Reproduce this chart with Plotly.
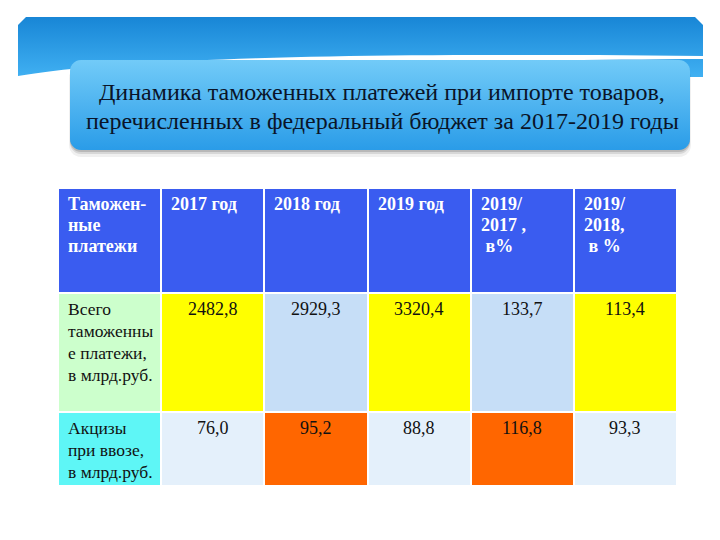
import numpy as np
import plotly.graph_objects as go

# ---- data ----
header_labels = [["Таможен-", "ные", "платежи"], ["2017 год"], ["2018 год"], ["2019 год"],
                 ["2019/", "2017 ,", " в%"], ["2019/", "2018,", " в %"]]
row_labels = [["Всего", "таможенны", "е платежи,", "в млрд.руб."],
              ["Акцизы", "при ввозе,", "в млрд.руб."]]
val_2017 = ["2482,8", "76,0"]
val_2018 = ["2929,3", "95,2"]
val_2019 = ["3320,4", "88,8"]
pct_19_17 = ["133,7", "116,8"]
pct_19_18 = ["113,4", "93,3"]
title_lines = ["Динамика таможенных платежей при импорте товаров,",
               "перечисленных в федеральный бюджет за 2017-2019 годы"]

# colour category of each cell: rows = header, row1, row2
palette = ["#3A5CF0", "#CCFFCC", "#5EF6F6", "#FFFF00", "#C6DEF7", "#E4F0FB", "#FF6600"]
cell_codes = [[0, 0, 0, 0, 0, 0],
              [1, 3, 4, 3, 4, 3],
              [2, 5, 6, 5, 6, 5]]

W, H = 720, 540
SERIF = "Liberation Serif, Times New Roman, Tinos, DejaVu Serif, serif"

# table geometry (layout)
TX0, TX1 = 58, 677
ROW_EDGES = [188, 293, 412, 486]
COL_EDGES = list(np.linspace(TX0, TX1, 7))
LINE = 22


def rrect(x0, y0, x1, y1, r, n=8):
    xs, ys = [], []
    corners = [(x1 - r, y0 + r, -90, 0), (x1 - r, y1 - r, 0, 90),
               (x0 + r, y1 - r, 90, 180), (x0 + r, y0 + r, 180, 270)]
    for cx, cy, a0, a1 in corners:
        for a in np.linspace(np.radians(a0), np.radians(a1), n):
            xs.append(cx + r * np.cos(a))
            ys.append(cy + r * np.sin(a))
    xs.append(xs[0]); ys.append(ys[0])
    return xs, ys


fig = go.Figure()

# banner (top band)
bx = [18, 18, 26, 695, 703, 703, 18]
by = [77, 25, 17, 17, 25, 77, 77]
fig.add_trace(go.Scatter(x=bx, y=by, fill="toself", mode="none", hoverinfo="skip",
                         fillgradient=dict(type="vertical",
                                           colorscale=[[0, "#40B0F2"], [1, "#1886D6"]]),
                         showlegend=False))

# white swoosh across the banner bottom
t = np.linspace(0, 1, 40)
def qbez(p0, p1, p2):
    return ((1 - t) ** 2 * p0[0] + 2 * (1 - t) * t * p1[0] + t ** 2 * p2[0],
            (1 - t) ** 2 * p0[1] + 2 * (1 - t) * t * p1[1] + t ** 2 * p2[1])
ux, uy = qbez((18, 76), (170, 50), (703, 56))
lx, ly = qbez((703, 59), (300, 61), (18, 82))
fig.add_trace(go.Scatter(x=list(ux) + list(lx) + [18, 18], y=list(uy) + list(ly) + [90, 76],
                         fill="toself", mode="none", fillcolor="white", hoverinfo="skip",
                         showlegend=False))

# title box shadow (soft, below)
for dy, pad, a in [(6, 1, 0.06), (4, 0, 0.10), (2, 0, 0.14)]:
    sx, sy = rrect(70 - pad, 60 + dy, 690 + pad, 150 + dy + pad, 11 + pad)
    fig.add_trace(go.Scatter(x=sx, y=sy, fill="toself", mode="none", hoverinfo="skip",
                             fillcolor=f"rgba(0,0,0,{a})", showlegend=False))

# title box
tx, ty = rrect(70, 60, 690, 150, 11)
fig.add_trace(go.Scatter(x=tx, y=ty, fill="toself", mode="none", hoverinfo="skip",
                         fillgradient=dict(type="vertical",
                                           colorscale=[[0, "#2A9CE8"], [1, "#72CBF8"]]),
                         showlegend=False))

# table cells as a heatmap with gaps
n = len(palette)
cs = []
for i, c in enumerate(palette):
    cs.append([i / n, c]); cs.append([(i + 1) / n, c])
fig.add_trace(go.Heatmap(x=COL_EDGES, y=ROW_EDGES, z=cell_codes, zmin=0, zmax=n,
                         colorscale=cs, showscale=False, xgap=2, ygap=2, hoverinfo="skip"))

fig.update_layout(
    width=W, height=H, margin=dict(l=0, r=0, t=0, b=0),
    paper_bgcolor="white", plot_bgcolor="rgba(0,0,0,0)",
    xaxis=dict(range=[0, W], visible=False, fixedrange=True, domain=[0, 1]),
    yaxis=dict(range=[H, 0], visible=False, fixedrange=True, domain=[0, 1]),
    showlegend=False,
)

# title text
for i, line in enumerate(title_lines):
    fig.add_annotation(x=382, y=92 + 29 * i, xref="x", yref="y", showarrow=False,
                       text=line, xanchor="center", yanchor="middle",
                       font=dict(family=SERIF, size=24, color="#0A1428"))

# header text
for j, lines in enumerate(header_labels):
    for k, line in enumerate(lines):
        fig.add_annotation(x=COL_EDGES[j] + 8, y=ROW_EDGES[0] + 16 + 21 * k, xref="x", yref="y",
                           showarrow=False, text=f"<b>{line}</b>", xanchor="left", yanchor="middle",
                           font=dict(family=SERIF, size=18, color="white"))

# body text
body_cols = [val_2017, val_2018, val_2019, pct_19_17, pct_19_18]
for r in range(2):
    top = ROW_EDGES[r + 1]
    for k, line in enumerate(row_labels[r]):
        fig.add_annotation(x=COL_EDGES[0] + 8, y=top + 16 + LINE * k, xref="x", yref="y",
                           showarrow=False, text=line, xanchor="left", yanchor="middle",
                           font=dict(family=SERIF, size=17.5, color="#111111"))
    for j, col in enumerate(body_cols):
        fig.add_annotation(x=(COL_EDGES[j + 1] + COL_EDGES[j + 2]) / 2, y=top + 16,
                           xref="x", yref="y", showarrow=False, text=col[r],
                           xanchor="center", yanchor="middle",
                           font=dict(family=SERIF, size=18, color="#111111"))

fig.write_html("out.html", config={"displayModeBar": False},
               post_script="document.body.style.margin='0';")
